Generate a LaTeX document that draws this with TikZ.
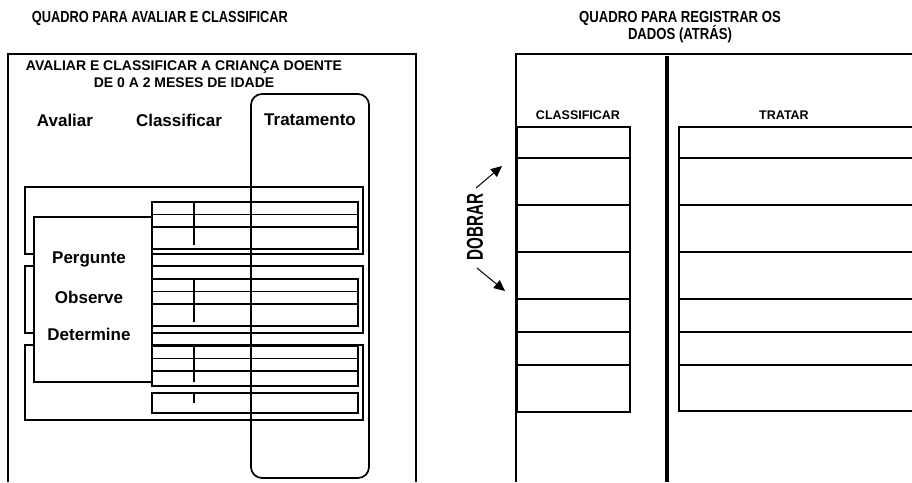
\documentclass[tikz,border=0pt]{standalone}
\usepackage{fontspec}
\setmainfont{Liberation Sans}
\usepackage{tikz}
\usetikzlibrary{arrows.meta}
\tikzstyle{Frame}=[line width=1.7pt]
\tikzstyle{Rule}=[line width=1.5pt]
\tikzstyle{BigTitle}=[font=\bfseries\fontsize{16}{16}\selectfont,inner sep=0pt]
\tikzstyle{SubTitle}=[font=\bfseries\fontsize{14}{14}\selectfont,inner sep=0pt]
\tikzstyle{Head}=[font=\bfseries\fontsize{17}{17}\selectfont,inner sep=0pt]
\tikzstyle{SmallHead}=[font=\bfseries\fontsize{12.5}{12.5}\selectfont,inner sep=0pt]
\tikzstyle{FoldArrow}=[line width=1pt,-{Triangle[length=11pt,width=10pt]}]

\begin{document}
\begin{tikzpicture}[x=1pt,y=-1pt]
        \useasboundingbox (0,0) rectangle (912,482);
        % titles
        \node[BigTitle](lefttitle)at(160,18){\scalebox{0.8}[1]{QUADRO PARA AVALIAR E CLASSIFICAR}};
        \node[BigTitle](righttitle)at(680,18){\scalebox{0.82}[1]{QUADRO PARA REGISTRAR OS}};
        \node[BigTitle](righttitleb)at(680,34){\scalebox{0.82}[1]{DADOS (ATRÁS)}};
        % left panel
        \draw[Frame](8,482)--(8,54)--(416,54)--(416,482);
        \node[SubTitle](avtitle)at(184,67){AVALIAR E CLASSIFICAR A CRIANÇA DOENTE};
        \node[SubTitle](avtitleb)at(184,83){DE 0 A 2 MESES DE IDADE};
        \node[Head](avaliar)at(65,120){Avaliar};
        \node[Head](classificar)at(179,120){Classificar};
        \node[Head](tratamento)at(310,120){Tratamento};
        \draw[Frame](25,187)rectangle(363,254);
        \draw[Frame](25,266)rectangle(363,333);
        \draw[Frame](25,345)rectangle(363,420);
        \draw[Frame,fill=white](34,217)rectangle(152,382);
        \node[Head](pergunte)at(89,259){Pergunte};
        \node[Head](observe)at(89,297){Observe};
        \node[Head](determine)at(89,334){Determine};
        \foreach \t/\b in {202/249,279/326,346/386}{
            \draw[Rule,fill=white](152,\t)rectangle(358,\b);
            \draw[Rule](152,\t+12.5)--(358,\t+12.5);
            \draw[Rule](152,\t+25)--(358,\t+25);
            \draw[Rule](194,\t)--(194,\b-4);
        }
        \draw[line width=2.8pt](152,393)rectangle(358,413);
        \draw[Rule](194,393)--(194,403);
        \draw[Frame,rounded corners=11pt](251,478)rectangle(369,94);
        % right panel
        \draw[Frame](516,482)--(516,54)--(912,54);
        \draw[line width=4pt](667,56)--(667,482);
        \node[SmallHead](classhead)at(578,115){CLASSIFICAR};
        \node[SmallHead](tratarhead)at(784,115){TRATAR};
        \draw[Frame](517,127)rectangle(630,412);
        \draw[Frame](912,127)--(679,127)--(679,411)--(912,411);
        \foreach \r in {158,205,252,299,332,365}{
            \draw[Frame](517,\r)--(630,\r);
            \draw[Frame](679,\r)--(912,\r);
        }
        % fold mark
        \node[font=\bfseries\fontsize{23}{23}\selectfont,inner sep=0pt,rotate=90](dobrar)at(475,227){\scalebox{0.66}[1]{DOBRAR}};
        \coordinate(upa)at(476,188);
        \coordinate(upb)at(502,166);
        \coordinate(downa)at(477,268);
        \coordinate(downb)at(505,291);
        \draw[FoldArrow](upa)--(upb);
        \draw[FoldArrow](downa)--(downb);
    \end{tikzpicture}
\end{document}
